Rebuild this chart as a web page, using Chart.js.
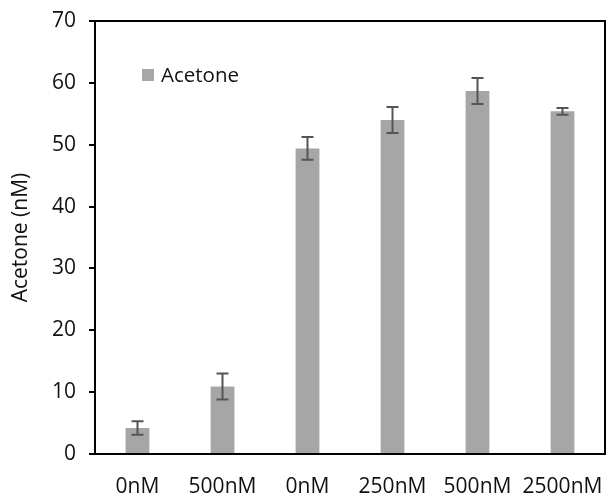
<!DOCTYPE html>
<html>
<head>
<meta charset="utf-8">
<script src="https://cdn.jsdelivr.net/npm/chart.js@4.4.0/dist/chart.umd.min.js"></script>
<style>
html,body{margin:0;padding:0;background:#fff;}
#wrap{width:610px;height:498px;}
</style>
</head>
<body>
<div id="wrap"><canvas id="c" width="610" height="498"></canvas></div>
<script>
const categories = ["0nM", "500nM", "0nM", "250nM", "500nM", "2500nM"];
const acetone = [4.2, 10.9, 49.4, 54.0, 58.7, 55.4];
const acetoneErr = [1.1, 2.1, 1.85, 2.1, 2.1, 0.55];
const yTicks = [0, 10, 20, 30, 40, 50, 60, 70];
const seriesLabel = "Acetone";
const yTitle = "Acetone (nM)";

const FONT = "'Open Sans', 'DejaVu Sans', sans-serif";
const BAR = "#a6a6a6";

const errorBars = {
  id: 'errorBars',
  afterDatasetsDraw(chart) {
    const ctx = chart.ctx, x = chart.scales.x, y = chart.scales.y;
    ctx.save();
    ctx.strokeStyle = '#555555';
    ctx.lineWidth = 2;
    acetone.forEach((v, i) => {
      const px = x.getPixelForValue(i);
      const top = y.getPixelForValue(v + acetoneErr[i]);
      const bot = y.getPixelForValue(v - acetoneErr[i]);
      ctx.beginPath();
      ctx.moveTo(px, top); ctx.lineTo(px, bot);
      ctx.moveTo(px - 6, top); ctx.lineTo(px + 6, top);
      ctx.moveTo(px - 6, bot); ctx.lineTo(px + 6, bot);
      ctx.stroke();
    });
    ctx.restore();
  }
};

const frame = {
  id: 'frame',
  afterDraw(chart) {
    const a = chart.chartArea, ctx = chart.ctx;
    ctx.save();
    ctx.strokeStyle = '#000';
    ctx.lineWidth = 2;
    ctx.strokeRect(a.left, a.top, a.right - a.left, a.bottom - a.top);
    // legend inside plot
    ctx.fillStyle = BAR;
    ctx.fillRect(a.left + 47, a.top + 48, 12, 12);
    ctx.fillStyle = '#111';
    ctx.font = "20.5px " + FONT;
    ctx.textBaseline = 'middle';
    ctx.textAlign = 'left';
    ctx.fillText(seriesLabel, a.left + 66, a.top + 55);
    ctx.restore();
  }
};

new Chart(document.getElementById('c'), {
  type: 'bar',
  data: {
    labels: categories,
    datasets: [{
      label: seriesLabel,
      data: acetone,
      backgroundColor: BAR,
      borderWidth: 0,
      barPercentage: 0.28,
      categoryPercentage: 1.0
    }]
  },
  options: {
    responsive: false,
    animation: false,
    layout: { padding: { top: 21, right: 5, left: 0, bottom: 0 } },
    plugins: { legend: { display: false }, tooltip: { enabled: false } },
    scales: {
      x: {
        grid: { display: false, drawTicks: false },
        border: { display: false },
        ticks: { color: '#111', font: { family: FONT, size: 21 }, padding: 20, maxRotation: 0, autoSkip: false },
        afterFit(s) { s.height = 44; s.paddingLeft = 0; s.paddingRight = 0; }
      },
      y: {
        min: 0, max: 70,
        afterBuildTicks(s) { s.ticks = yTicks.map(v => ({ value: v })); },
        grid: { drawOnChartArea: false, drawTicks: true, tickLength: 6, color: '#000', lineWidth: 2 },
        border: { display: false },
        ticks: { color: '#111', font: { family: FONT, size: 21 }, padding: 13 },
        title: { display: true, text: yTitle, color: '#111', font: { family: FONT, size: 21 }, padding: { top: 8, bottom: 0 } },
        afterFit(s) { s.width = 95; s.paddingTop = 0; s.paddingBottom = 0; }
      }
    }
  },
  plugins: [errorBars, frame]
});
</script>
</body>
</html>
